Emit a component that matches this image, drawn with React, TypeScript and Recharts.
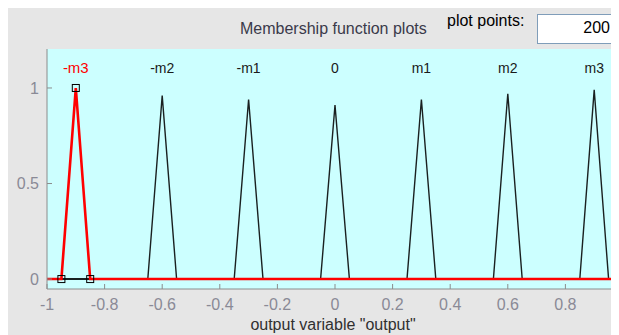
import { ComposedChart, Line, Scatter, XAxis, YAxis, CartesianGrid } from "recharts";

// axis ticks
const xTicks = [-1, -0.8, -0.6, -0.4, -0.2, 0, 0.2, 0.4, 0.6, 0.8, 1];
const yTicks = [0, 0.5, 1];

// triangular membership functions (200 plot points)
const mfNames = ["-m3", "-m2", "-m1", "0", "m1", "m2", "m3"];
const mfLeft = [-0.95, -0.65, -0.35, -0.05, 0.25, 0.55, 0.85];
const mfCenter = [-0.9, -0.6, -0.3, 0, 0.3, 0.6, 0.9];
const mfRight = [-0.85, -0.55, -0.25, 0.05, 0.35, 0.65, 0.95];
const mfPeak = [1, 0.96, 0.94, 0.91, 0.94, 0.97, 0.99];
const selectedMf = 0;

const PLOT_LEFT = 39;
const PLOT_TOP = 41;
const PLOT_BOTTOM = 281;
const PLOT_RIGHT = 615;
const LABEL_Y = 1.1;
const FRAME = "#8c8c8c";
const TICK_TEXT = "#8a8a96";
const FONT = "'Liberation Sans', Arial, sans-serif";

const series = mfNames.map((name, i) => ({
  name,
  points: [
    { x: -1, y: 0 },
    { x: mfLeft[i], y: 0 },
    { x: mfCenter[i], y: mfPeak[i] },
    { x: mfRight[i], y: 0 },
    { x: 1, y: 0 },
  ],
}));

const labels = mfNames.map((name, i) => ({ x: mfCenter[i], y: LABEL_Y, name }));
const handles = [
  { x: mfLeft[selectedMf], y: 0 },
  { x: mfCenter[selectedMf], y: mfPeak[selectedMf] },
  { x: mfRight[selectedMf], y: 0 },
];

const BottomTick = (props: any) => {
  const { x, payload } = props;
  return (
    <g>
      <line x1={x} x2={x} y1={PLOT_BOTTOM} y2={PLOT_BOTTOM - 5} stroke={FRAME} />
      <text x={x} y={302} textAnchor="middle" fill={TICK_TEXT} fontSize={16} fontFamily={FONT}>
        {payload.value}
      </text>
    </g>
  );
};

const TopTick = (props: any) => {
  const { x } = props;
  return <line x1={x} x2={x} y1={PLOT_TOP} y2={PLOT_TOP + 5} stroke={FRAME} />;
};

const LeftTick = (props: any) => {
  const { y, payload } = props;
  return (
    <g>
      <line x1={PLOT_LEFT} x2={PLOT_LEFT + 5} y1={y} y2={y} stroke={FRAME} />
      <text x={31} y={y} dy="0.36em" textAnchor="end" fill={TICK_TEXT} fontSize={16} fontFamily={FONT}>
        {payload.value}
      </text>
    </g>
  );
};

const RightTick = (props: any) => {
  const { y } = props;
  return <line x1={PLOT_RIGHT} x2={PLOT_RIGHT - 5} y1={y} y2={y} stroke={FRAME} />;
};

const NameLabel = (props: any) => {
  const { cx, cy, payload } = props;
  const isSel = payload.name === mfNames[selectedMf];
  return (
    <text x={cx} y={cy} dy={4} textAnchor="middle" fontSize={isSel ? 15 : 14} fontFamily={FONT} fill={isSel ? "#ff0000" : "#1a1a1a"}>
      {payload.name}
    </text>
  );
};

const Handle = (props: any) => {
  const { cx, cy } = props;
  return <rect x={cx - 3.5} y={cy - 3.5} width={7} height={7} fill="none" stroke="#000" strokeWidth={1} />;
};

export default function App() {
  return (
    <div
      style={{
        position: "relative",
        width: 611,
        height: 327,
        background: "#e6e6e6",
        overflow: "hidden",
        fontFamily: FONT,
      }}
    >
      <div style={{ position: "absolute", left: 232, top: 12, fontSize: 16, color: "#3a3a4a", whiteSpace: "nowrap" }}>
        Membership function plots
      </div>
      <div style={{ position: "absolute", left: 439, top: 4, fontSize: 16, color: "#000", whiteSpace: "nowrap" }}>
        plot points:
      </div>
      <div
        style={{
          position: "absolute",
          left: 529,
          top: 6,
          width: 100,
          height: 30,
          boxSizing: "border-box",
          background: "#fff",
          border: "1px solid #7f9db9",
        }}
      />
      <div style={{ position: "absolute", right: 9, top: 11, fontSize: 16, color: "#000" }}>200</div>

      <div style={{ position: "absolute", left: 0, top: 0 }}>
        <ComposedChart width={650} height={327} margin={{ top: PLOT_TOP, right: 650 - PLOT_RIGHT, bottom: 0, left: 0 }}>
          <CartesianGrid fill="#ccffff" stroke="none" horizontal={false} vertical={false} />
          <XAxis
            dataKey="x"
            type="number"
            domain={[-1, 1]}
            ticks={xTicks}
            allowDataOverflow
            height={327 - PLOT_BOTTOM}
            axisLine={{ stroke: FRAME }}
            tickLine={false}
            tick={BottomTick}
            interval={0}
          />
          <XAxis
            xAxisId="top"
            orientation="top"
            dataKey="x"
            type="number"
            domain={[-1, 1]}
            ticks={xTicks}
            allowDataOverflow
            height={0}
            axisLine={{ stroke: FRAME }}
            tickLine={false}
            tick={TopTick}
            interval={0}
          />
          <YAxis
            type="number"
            domain={[-0.052, 1.204]}
            ticks={yTicks}
            allowDataOverflow
            width={PLOT_LEFT}
            axisLine={{ stroke: FRAME }}
            tickLine={false}
            tick={LeftTick}
            interval={0}
          />
          <YAxis
            yAxisId="right"
            orientation="right"
            type="number"
            domain={[-0.052, 1.204]}
            ticks={yTicks}
            allowDataOverflow
            width={0}
            axisLine={{ stroke: FRAME }}
            tickLine={false}
            tick={RightTick}
            interval={0}
          />
          {series.map((s, i) =>
            i === selectedMf ? null : (
              <Line
                key={s.name}
                data={s.points}
                dataKey="y"
                type="linear"
                stroke="#1a2020"
                strokeWidth={1.4}
                dot={false}
                isAnimationActive={false}
              />
            )
          )}
          <Line
            data={series[selectedMf].points}
            dataKey="y"
            type="linear"
            stroke="#ff0000"
            strokeWidth={2.6}
            dot={false}
            isAnimationActive={false}
          />
          <Scatter data={handles} dataKey="y" shape={Handle} isAnimationActive={false} />
          <Scatter data={labels} dataKey="y" shape={NameLabel} isAnimationActive={false} />
        </ComposedChart>
      </div>

      <div
        style={{
          position: "absolute",
          left: 325,
          top: 308,
          transform: "translateX(-50%)",
          fontSize: 16,
          lineHeight: "18px",
          color: "#303030",
          whiteSpace: "nowrap",
        }}
      >
        output variable "output"
      </div>
    </div>
  );
}
